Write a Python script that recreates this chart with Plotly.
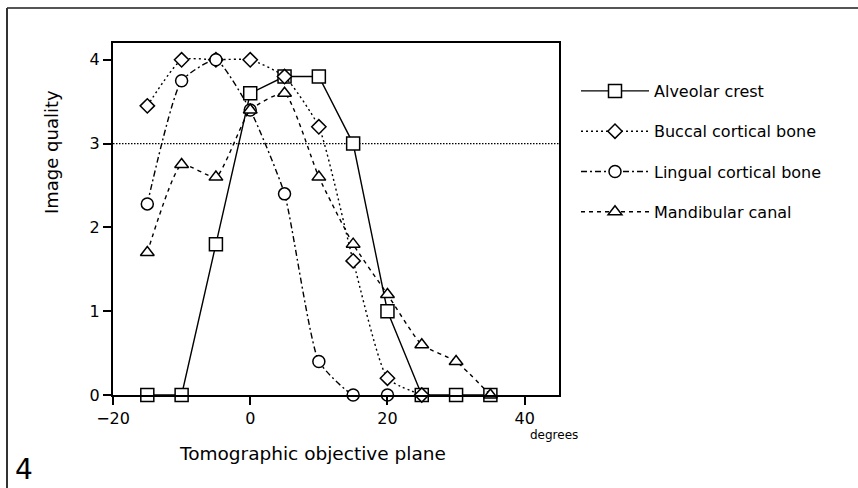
import plotly.graph_objects as go

angles = [-15, -10, -5, 0, 5, 10, 15, 20, 25, 30, 35]
alveolar_x = angles
alveolar_y = [0, 0, 1.8, 3.6, 3.8, 3.8, 3.0, 1.0, 0, 0, 0]
buccal_x = [-15, -10, -5, 0, 5, 10, 15, 20, 25]
buccal_y = [3.45, 4.0, 4.0, 4.0, 3.8, 3.2, 1.6, 0.2, 0]
lingual_x = [-15, -10, -5, 0, 5, 10, 15, 20]
lingual_y = [2.28, 3.75, 4.0, 3.4, 2.4, 0.4, 0, 0]
canal_x = angles
canal_y = [1.7, 2.75, 2.6, 3.4, 3.6, 2.6, 1.8, 1.2, 0.6, 0.4, 0]
threshold = 3
x_ticks = [-20, 0, 20, 40]
y_ticks = [0, 1, 2, 3, 4]

FONT = "DejaVu Sans"
W, H = 858, 488
PL, PT, PR, PB = 113, 43, 559, 395
L, T, R, B = PL, PT, W - PR, H - PB
PW, PH = W - L - R, H - T - B


def px(x):
    return (x - L) / PW


def py(y):
    return 1 - (y - T) / PH


fig = go.Figure()


def add(name, xs, ys, symbol, dash, size, shape="linear"):
    fig.add_trace(go.Scatter(
        x=xs, y=ys, name=name, mode="lines+markers", legendgroup=name,
        line=dict(color="black", width=1.4, dash=dash, shape=shape, smoothing=0.5),
        marker=dict(symbol=symbol, size=size, color="white",
                    line=dict(color="black", width=1.5)),
        cliponaxis=False,
    ))


add("Alveolar crest", alveolar_x, alveolar_y, "square", "solid", 13)
add("Buccal cortical bone", buccal_x, buccal_y, "diamond", "2px,3px", 11, "spline")
add("Lingual cortical bone", lingual_x, lingual_y, "circle", "6px,3px,2px,3px", 12, "spline")
add("Mandibular canal", canal_x, canal_y, "triangle-up", "4px,4px", 12, "spline")

# reference line at 3
fig.add_shape(type="line", xref="paper", yref="y", x0=0, x1=1, y0=threshold, y1=threshold,
              line=dict(color="black", width=1.2, dash="1.5px,1.5px"), layer="below")

# outer border: top and left edges only
fig.add_shape(type="line", xref="paper", yref="paper",
              x0=px(7), x1=px(900), y0=py(8), y1=py(8),
              line=dict(color="#555", width=2))
fig.add_shape(type="line", xref="paper", yref="paper",
              x0=px(7), x1=px(7), y0=py(8), y1=py(520),
              line=dict(color="#333", width=2))


def ann(text, x, y, size, angle=0, yanchor="middle"):
    fig.add_annotation(text=text, textangle=angle, xref="paper", yref="paper",
                       x=px(x), y=py(y), xanchor="center", yanchor=yanchor,
                       showarrow=False, font=dict(family=FONT, size=size, color="black"))


ann("Image quality", 52, 152, 18, -90)
ann("Tomographic objective plane", 312, 453, 18.5)
ann("degrees", 554, 435, 12)
ann("4", 23.5, 488, 28, yanchor="bottom")

axis_common = dict(showline=True, linecolor="black", linewidth=2, mirror=True,
                   ticks="outside", ticklen=8, tickwidth=1.5, tickcolor="black",
                   showgrid=False, zeroline=False, automargin=False,
                   tickfont=dict(family=FONT, size=16, color="black"))
fig.update_xaxes(range=[-20, 45], tickvals=x_ticks, **axis_common)
fig.update_yaxes(range=[0, 4.2], tickvals=y_ticks, **axis_common)

fig.update_layout(
    width=W, height=H,
    margin=dict(l=L, r=R, t=T, b=B, autoexpand=False),
    plot_bgcolor="white", paper_bgcolor="white",
    showlegend=True,
    legend=dict(x=px(576), y=py(74), xanchor="left", yanchor="top",
                font=dict(family=FONT, size=16, color="black"),
                tracegroupgap=16.5, itemwidth=68, bgcolor="rgba(0,0,0,0)"),
)

fig.write_html(
    "out.html",
    config={"displayModeBar": False},
    post_script="document.body.style.margin='0';document.documentElement.style.overflow='hidden';",
)
